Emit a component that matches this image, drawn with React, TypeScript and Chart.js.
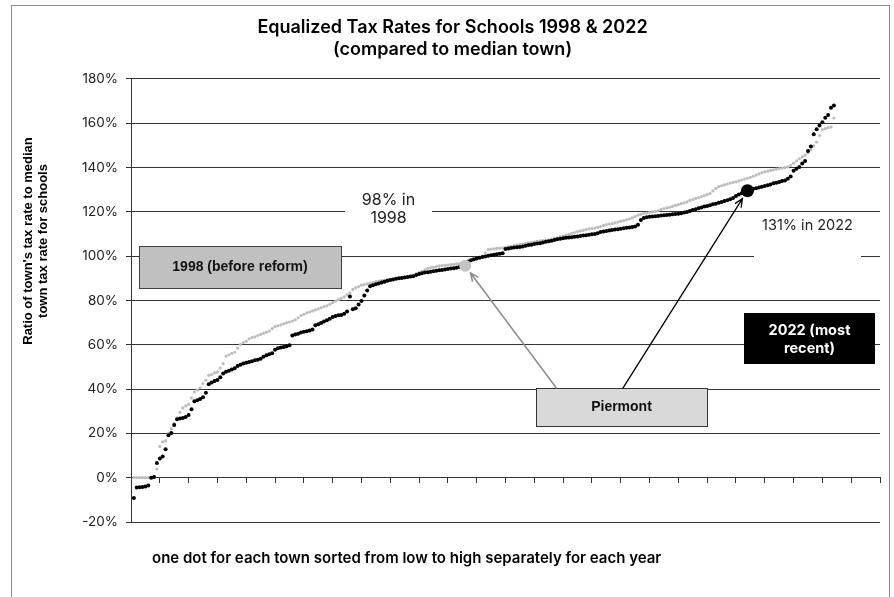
import React, { useEffect, useRef } from "react";
import Chart from "chart.js/auto";

// Ratio of each town's school tax rate to the median town (%), sorted low to high
const rate2022 = [
  -9.2, -4.4, -4.3, -4.2, -4.0, -3.5, 0.0, 0.3, 6.6, 8.7,
  9.6, 12.9, 19.2, 20.2, 23.8, 26.4, 26.7, 26.9, 27.4, 28.3,
  30.9, 34.5, 35.0, 35.5, 36.3, 38.4, 42.2, 43.0, 43.6, 44.1,
  45.4, 47.0, 47.8, 48.3, 48.8, 49.4, 50.4, 51.0, 51.5, 51.9,
  52.2, 52.6, 53.0, 53.3, 53.7, 54.6, 55.3, 55.7, 56.2, 57.8,
  58.4, 58.8, 59.0, 59.3, 59.8, 64.2, 64.7, 65.0, 65.6, 65.9,
  66.1, 66.4, 66.9, 68.8, 69.3, 69.8, 70.5, 71.1, 71.8, 72.5,
  73.0, 73.3, 73.5, 74.0, 75.0, 81.8, 76.1, 76.5, 78.2, 79.8,
  82.2, 84.5, 86.4, 86.9, 87.3, 87.7, 88.1, 88.5, 88.9, 89.2,
  89.5, 89.8, 90.0, 90.2, 90.4, 90.6, 90.8, 91.0, 91.5, 92.0,
  92.3, 92.6, 92.8, 93.0, 93.2, 93.4, 93.6, 93.8, 94.0, 94.2,
  94.4, 94.6, 94.8, 95.1, 95.4, 96.0, 97.6, 98.2, 98.6, 99.0,
  99.3, 99.6, 99.9, 100.2, 100.4, 100.6, 100.9, 101.1, 101.3, 103.3,
  103.5, 103.7, 103.9, 104.0, 104.2, 104.4, 104.7, 105.0, 105.2, 105.5,
  105.7, 105.9, 106.2, 106.5, 106.7, 107.0, 107.3, 107.6, 107.9, 108.1,
  108.3, 108.4, 108.6, 108.8, 108.9, 109.1, 109.3, 109.5, 109.7, 109.9,
  110.0, 110.4, 110.9, 111.2, 111.4, 111.6, 111.8, 112.0, 112.2, 112.4,
  112.6, 112.8, 113.0, 113.2, 113.4, 114.2, 116.3, 117.2, 117.6, 117.8,
  117.9, 118.0, 118.2, 118.4, 118.5, 118.6, 118.7, 118.9, 119.0, 119.2,
  119.4, 119.7, 120.0, 120.4, 120.8, 121.2, 121.6, 122.0, 122.4, 122.7,
  123.0, 123.4, 123.7, 124.1, 124.5, 124.9, 125.3, 125.7, 126.3, 127.2,
  127.8, 128.4, 129.0, 129.6, 130.0, 130.4, 130.7, 131.0, 131.3, 131.7,
  132.0, 132.4, 132.9, 133.2, 133.5, 133.9, 134.2, 135.0, 136.0, 138.6,
  139.5, 140.3, 141.8, 143.0, 147.5, 149.5, 155.0, 157.3, 159.0, 160.5,
  162.5, 163.8, 167.0, 168.0,
];

const rate1998 = [
  0.0, 0.0, 0.0, 0.0, 0.0, 0.0, 0.0, 0.3, 3.9, 14.1,
  16.2, 16.6, 20.0, 22.0, 24.5, 27.0, 29.5, 31.5, 32.4, 33.1,
  36.0, 38.7, 39.6, 40.6, 42.5, 44.0, 46.2, 46.6, 47.4, 47.7,
  49.5, 51.5, 54.9, 55.5, 56.1, 56.7, 58.5, 60.1, 61.0, 61.6,
  62.7, 63.3, 63.6, 64.2, 64.7, 65.2, 65.7, 66.2, 67.3, 68.2,
  68.6, 69.0, 69.5, 69.9, 70.3, 70.7, 71.3, 72.2, 73.2, 73.8,
  74.4, 74.8, 75.3, 75.8, 76.2, 76.7, 77.2, 77.6, 78.3, 79.0,
  79.7, 80.4, 81.0, 81.6, 82.5, 83.4, 85.0, 85.7, 86.3, 86.9,
  87.2, 87.5, 87.8, 88.1, 88.5, 88.8, 89.0, 89.2, 89.4, 89.5,
  89.7, 89.9, 90.1, 90.3, 90.5, 90.8, 91.1, 91.5, 92.0, 92.6,
  93.2, 93.8, 94.5, 94.8, 95.0, 95.3, 95.6, 95.7, 95.9, 96.0,
  96.2, 96.3, 96.5, 96.6, 96.8, 96.9, 97.3, 97.8, 98.3, 98.8,
  99.4, 100.2, 101.5, 103.0, 103.2, 103.3, 103.5, 103.6, 103.8, 104.0,
  104.2, 104.5, 104.8, 105.0, 105.3, 105.5, 105.8, 106.0, 106.3, 106.5,
  106.7, 106.9, 107.0, 107.1, 107.4, 107.7, 108.0, 108.3, 108.7, 109.1,
  109.5, 109.9, 110.3, 110.7, 111.1, 111.4, 111.7, 112.0, 112.3, 112.5,
  112.7, 113.0, 113.4, 113.9, 114.3, 114.5, 114.7, 115.0, 115.4, 115.8,
  116.1, 116.4, 116.8, 117.3, 117.9, 118.5, 118.9, 119.3, 119.5, 119.8,
  120.0, 120.2, 120.6, 121.1, 121.5, 121.8, 122.1, 122.5, 122.9, 123.3,
  123.7, 124.1, 124.5, 125.2, 125.6, 126.1, 126.5, 126.9, 127.3, 127.8,
  128.4, 129.5, 130.6, 131.4, 131.8, 132.2, 132.6, 133.0, 133.3, 133.6,
  134.0, 134.4, 134.8, 135.2, 135.6, 136.1, 136.6, 137.2, 137.7, 138.1,
  138.4, 138.7, 139.0, 139.3, 139.6, 139.8, 140.0, 140.3, 141.0, 142.0,
  143.0, 144.0, 144.8, 145.6, 146.6, 148.0, 149.8, 151.5, 154.5, 157.2,
  157.6, 158.0, 158.3, 162.4,
];

// Piermont: rank and ratio in 1998, then 2022
const piermontRank = [116, 214];
const piermontRate = [95.7, 129.6];

const titleLines = ["Equalized Tax Rates for Schools 1998 & 2022", "(compared to median town)"];
const yTitleLines = ["Ratio of town's tax rate to median", "town tax rate for schools"];
const xTitle = "one dot for each town sorted from low to high separately for each year";

const yMin = -20;
const yMax = 180;
const yStep = 20;
const rankMax = 260;
const rankStep = 10;

const INTER = "Inter, 'Noto Sans', sans-serif";
const ARIAL = "'Liberation Sans', Arial, sans-serif";

// callout boxes, placed in data units (rank, %)
const notes = [
  { x1: 2.9, x2: 73, yTop: 104.4, yBottom: 85.6, fill: "#c0c0c0", stroke: "#404040",
    lines: ["1998 (before reform)"], lineY: [95], font: `bold 14px ${ARIAL}`, color: "#111" },
  { x1: 74.4, x2: 104.5, yTop: 131, yBottom: 111.3, fill: "#ffffff", stroke: "",
    lines: ["98% in", "1998"], lineY: [125.4, 117.1], font: `16px ${INTER}`, color: "#222" },
  { x1: 216.4, x2: 253.4, yTop: 119.4, yBottom: 97.7, fill: "#ffffff", stroke: "",
    lines: ["131% in 2022"], lineY: [113.7], font: `14.5px ${INTER}`, color: "#222" },
  { x1: 212.9, x2: 258.3, yTop: 74.3, yBottom: 51.3, fill: "#000000", stroke: "",
    lines: ["2022 (most", "recent)"], lineY: [66.3, 58.1], font: `bold 14.5px ${INTER}`, color: "#fff" },
  { x1: 140.6, x2: 200.1, yTop: 40.3, yBottom: 23.5, fill: "#d9d9d9", stroke: "#333",
    lines: ["Piermont"], lineY: [31.9], font: `bold 14px ${ARIAL}`, color: "#111" },
];

const arrows = [
  { fromX: 147.8, fromY: 40.3, target: 0, color: "#8c8c8c", width: 1.5 },
  { fromX: 170.7, fromY: 40.3, target: 1, color: "#000", width: 1.3 },
];

const pointRadiusPiermont = [6, 6.5];

const overlayPlugin = {
  id: "overlay",
  afterDraw(chart: Chart) {
    const { ctx, chartArea, scales } = chart;
    const px = (v: number) => scales.x.getPixelForValue(v);
    const py = (v: number) => scales.y.getPixelForValue(v);
    ctx.save();

    notes.forEach((n) => {
      const l = Math.round(px(n.x1));
      const r = Math.round(px(n.x2));
      const t = Math.round(py(n.yTop));
      const b = Math.round(py(n.yBottom));
      ctx.fillStyle = n.fill;
      ctx.fillRect(l, t, r - l, b - t);
      if (n.stroke) {
        ctx.strokeStyle = n.stroke;
        ctx.lineWidth = 1;
        ctx.strokeRect(l + 0.5, t + 0.5, r - l, b - t);
      }
      ctx.fillStyle = n.color;
      ctx.font = n.font;
      ctx.textAlign = "center";
      ctx.textBaseline = "middle";
      n.lines.forEach((s, i) => ctx.fillText(s, (l + r) / 2, py(n.lineY[i])));
    });

    arrows.forEach((a) => {
      const x1 = px(a.fromX);
      const y1 = py(a.fromY);
      const cx = px(piermontRank[a.target]);
      const cy = py(piermontRate[a.target]);
      const dx = x1 - cx;
      const dy = y1 - cy;
      const len = Math.hypot(dx, dy);
      const off = pointRadiusPiermont[a.target] + 3;
      const tx = cx + (dx / len) * off;
      const ty = cy + (dy / len) * off;
      const ang = Math.atan2(dy, dx);
      ctx.strokeStyle = a.color;
      ctx.lineWidth = a.width;
      ctx.beginPath();
      ctx.moveTo(x1, y1);
      ctx.lineTo(tx, ty);
      ctx.moveTo(tx + 9 * Math.cos(ang + 0.42), ty + 9 * Math.sin(ang + 0.42));
      ctx.lineTo(tx, ty);
      ctx.lineTo(tx + 9 * Math.cos(ang - 0.42), ty + 9 * Math.sin(ang - 0.42));
      ctx.stroke();
    });

    // axis titles
    ctx.fillStyle = "#000";
    ctx.font = `bold 13px ${ARIAL}`;
    ctx.textAlign = "center";
    ctx.textBaseline = "middle";
    ctx.save();
    ctx.translate(chartArea.left - 95, chartArea.top + 162);
    ctx.rotate(-Math.PI / 2);
    yTitleLines.forEach((s, i) => ctx.fillText(s, 0, (i - 0.5) * 15));
    ctx.restore();

    ctx.font = `600 15px ${INTER}`;
    ctx.textAlign = "left";
    ctx.fillText(xTitle, chartArea.left + 21, chartArea.bottom + 36);
    ctx.restore();
  },
};

const App: React.FC = () => {
  const canvasRef = useRef<HTMLCanvasElement>(null);

  useEffect(() => {
    if (!canvasRef.current) return;
    const pts2022 = rate2022.map((v, i) => ({ x: i + 1, y: v }));
    const pts1998 = rate1998.map((v, i) => ({ x: i + 1, y: v }));
    const piermont = piermontRank.map((r, i) => ({ x: r, y: piermontRate[i] }));

    const chart = new Chart(canvasRef.current, {
      type: "scatter",
      data: {
        datasets: [
          {
            label: "Piermont",
            data: piermont,
            backgroundColor: ["#c4c4c4", "#000000"],
            pointRadius: pointRadiusPiermont,
            pointBorderWidth: 0,
            order: 1,
          },
          {
            label: "2022",
            data: pts2022,
            backgroundColor: "#000000",
            pointRadius: 2,
            pointBorderWidth: 0,
            order: 2,
          },
          {
            label: "1998",
            data: pts1998,
            backgroundColor: "#bdbdbd",
            pointRadius: 1.6,
            pointBorderWidth: 0,
            order: 3,
          },
        ],
      },
      options: {
        animation: false,
        responsive: false,
        events: [],
        layout: { padding: { left: 25, right: 14, top: 0, bottom: 75 } },
        plugins: {
          legend: { display: false },
          tooltip: { enabled: false },
          title: {
            display: true,
            text: titleLines,
            color: "#000",
            font: { family: INTER, size: 18, weight: "600", lineHeight: 1.222 },
            padding: { top: 17, bottom: 18 },
          },
        },
        scales: {
          x: {
            type: "linear",
            min: 0,
            max: rankMax,
            position: { y: 0 },
            ticks: { display: false, stepSize: rankStep },
            grid: { drawOnChartArea: false, drawTicks: true, tickLength: 5, color: "#333" },
            border: { display: true, color: "#333" },
          },
          y: {
            min: yMin,
            max: yMax,
            afterFit: (s: any) => {
              s.width = 106;
            },
            ticks: {
              stepSize: yStep,
              callback: (v: any) => `${v}%`,
              color: "#222",
              padding: 8,
              font: { family: INTER, size: 13.5 },
            },
            grid: { color: "#333", tickLength: 5 },
            border: { display: true, color: "#333" },
          },
        },
      },
      plugins: [overlayPlugin],
    });

    return () => chart.destroy();
  }, []);

  return (
    <div style={{ position: "absolute", left: 0, top: 0, width: 894, height: 597, overflow: "hidden", background: "#fff" }}>
      <div
        style={{
          position: "absolute",
          left: 11,
          top: 5,
          width: 879,
          height: 640,
          border: "1px solid #8c8c8c",
          boxSizing: "border-box",
        }}
      />
      <canvas ref={canvasRef} width={894} height={597} style={{ position: "absolute", left: 0, top: 0 }} />
    </div>
  );
};

export default App;
